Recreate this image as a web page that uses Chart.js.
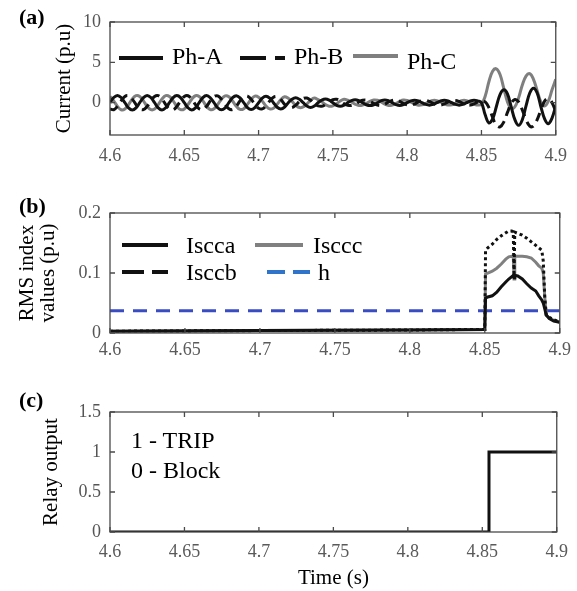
<!DOCTYPE html>
<html>
<head>
<meta charset="utf-8">
<script src="https://cdn.jsdelivr.net/npm/chart.js@4.4.0/dist/chart.umd.min.js"></script>
<style>
  body { margin: 0; background: #fff; }
  #wrap { position: relative; width: 577px; height: 591px; overflow: hidden; }
  canvas { position: absolute; left: 0; }
  .tag { position: absolute; left: 19px; font: bold 22px 'Liberation Serif', serif; color: #000; line-height: 24px; }
  .note { position: absolute; left: 131px; font: 24px 'Liberation Serif', serif; color: #000; line-height: 26px; }
</style>
</head>
<body>
<div id="wrap">
  <canvas id="ca" width="577" height="190" style="top:0"></canvas>
  <canvas id="cb" width="577" height="190" style="top:190px"></canvas>
  <canvas id="cc" width="577" height="211" style="top:380px"></canvas>
  <div class="tag" style="top:5px">(a)</div>
  <div class="tag" style="top:194px">(b)</div>
  <div class="tag" style="top:388px">(c)</div>
  <div class="note" style="top:427px">1 - TRIP</div>
  <div class="note" style="top:457px">0 - Block</div>
</div>
<script>
// (a) phase currents, sampled every 1/8 cycle
const time = [
  4.6, 4.6025, 4.605, 4.6075, 4.61, 4.6125, 4.615, 4.6175,
  4.62, 4.6225, 4.625, 4.6275, 4.63, 4.6325, 4.635, 4.6375,
  4.64, 4.6425, 4.645, 4.6475, 4.65, 4.6525, 4.655, 4.6575,
  4.66, 4.6625, 4.665, 4.6675, 4.67, 4.6725, 4.675, 4.6775,
  4.68, 4.6825, 4.685, 4.6875, 4.69, 4.6925, 4.695, 4.6975,
  4.7, 4.7025, 4.705, 4.7075, 4.71, 4.7125, 4.715, 4.7175,
  4.72, 4.7225, 4.725, 4.7275, 4.73, 4.7325, 4.735, 4.7375,
  4.74, 4.7425, 4.745, 4.7475, 4.75, 4.7525, 4.755, 4.7575,
  4.76, 4.7625, 4.765, 4.7675, 4.77, 4.7725, 4.775, 4.7775,
  4.78, 4.7825, 4.785, 4.7875, 4.79, 4.7925, 4.795, 4.7975,
  4.8, 4.8025, 4.805, 4.8075, 4.81, 4.8125, 4.815, 4.8175,
  4.82, 4.8225, 4.825, 4.8275, 4.83, 4.8325, 4.835, 4.8375,
  4.84, 4.8425, 4.845, 4.8475,
  4.85, 4.8525, 4.855, 4.8575, 4.86, 4.8625, 4.865, 4.8675,
  4.87, 4.8725, 4.875, 4.8775, 4.88, 4.8825, 4.885, 4.8875,
  4.89, 4.8925, 4.895, 4.8975, 4.9
];
const phA = [
  0, 0.64, 0.9, 0.64, 0, -0.64, -0.9, -0.64,
  0, 0.63, 0.9, 0.64, 0, -0.64, -0.9, -0.63,
  0, 0.64, 0.89, 0.64, 0, -0.63, -0.9, -0.64,
  0, 0.63, 0.88, 0.62, 0, -0.62, -0.88, -0.63,
  0, 0.62, 0.87, 0.61, 0, -0.6, -0.85, -0.6,
  0, 0.57, 0.8, 0.56, 0, -0.56, -0.78, -0.55,
  0, 0.44, 0.62, 0.42, 0, -0.42, -0.6, -0.42,
  0, 0.32, 0.45, 0.32, 0, -0.32, -0.44, -0.31,
  0, 0.26, 0.36, 0.25, 0, -0.25, -0.35, -0.25,
  0, 0.25, 0.35, 0.24, 0, -0.24, -0.34, -0.24,
  0, 0.22, 0.31, 0.22, 0, -0.21, -0.3, -0.21,
  0, 0.21, 0.3, 0.21, 0, -0.21, -0.3, -0.21,
  0, 0.21, 0.3, 0.21,
  0, -1.5, -2.5, -2.0, -0.5, 1.0, 1.6, 1.1,
  -0.5, -2.1, -2.8, -2.1, -0.4, 1.2, 1.8, 1.2,
  -0.5, -2.0, -2.6, -1.9, -0.4
];
const phB = [
  -0.78, -0.87, -0.45, 0.23, 0.78, 0.87, 0.45, -0.23,
  -0.78, -0.86, -0.45, 0.23, 0.78, 0.87, 0.45, -0.23,
  -0.77, -0.87, -0.45, 0.22, 0.77, 0.86, 0.44, -0.23,
  -0.76, -0.85, -0.44, 0.22, 0.76, 0.85, 0.44, -0.22,
  -0.75, -0.84, -0.43, 0.22, 0.74, 0.82, 0.42, -0.21,
  -0.69, -0.77, -0.4, 0.21, 0.68, 0.75, 0.39, -0.2,
  -0.54, -0.6, -0.31, 0.16, 0.52, 0.58, 0.3, -0.16,
  -0.39, -0.43, -0.23, 0.12, 0.39, 0.43, 0.22, -0.12,
  -0.31, -0.35, -0.18, 0.09, 0.3, 0.34, 0.18, -0.09,
  -0.3, -0.34, -0.18, 0.09, 0.29, 0.33, 0.17, -0.09,
  -0.27, -0.3, -0.16, 0.08, 0.26, 0.29, 0.15, -0.08,
  -0.26, -0.29, -0.15, 0.08, 0.26, 0.29, 0.15, -0.08,
  -0.26, -0.29, -0.15, 0.08,
  0.2, 0.1, -0.6, -1.8, -2.8, -3.0, -2.4, -1.2,
  -0.1, 0.4, 0.1, -0.9, -2.1, -2.9, -2.9, -2.1,
  -0.9, 0.2, 0.5, 0.0, -1.1
];
const phC = [
  0.78, 0.23, -0.45, -0.87, -0.78, -0.23, 0.45, 0.87,
  0.78, 0.23, -0.45, -0.86, -0.78, -0.23, 0.45, 0.87,
  0.77, 0.23, -0.44, -0.86, -0.77, -0.22, 0.44, 0.86,
  0.76, 0.22, -0.44, -0.85, -0.76, -0.22, 0.44, 0.85,
  0.75, 0.21, -0.43, -0.83, -0.74, -0.21, 0.42, 0.82,
  0.69, 0.2, -0.4, -0.77, -0.68, -0.2, 0.39, 0.75,
  0.54, 0.16, -0.31, -0.6, -0.52, -0.16, 0.3, 0.58,
  0.39, 0.12, -0.23, -0.43, -0.39, -0.12, 0.22, 0.43,
  0.31, 0.09, -0.18, -0.35, -0.3, -0.09, 0.18, 0.34,
  0.3, 0.09, -0.18, -0.34, -0.29, -0.09, 0.17, 0.33,
  0.27, 0.08, -0.16, -0.3, -0.26, -0.08, 0.15, 0.29,
  0.26, 0.08, -0.15, -0.29, -0.26, -0.08, 0.15, 0.29,
  0.26, 0.08, -0.15, -0.29,
  -0.2, 0.8, 2.6, 3.9, 4.2, 3.5, 1.8, 0.1,
  -0.7, -0.5, 0.6, 2.2, 3.3, 3.6, 2.9, 1.5,
  0.1, -0.4, 0.2, 1.6, 2.9
];

// (b) RMS index values and threshold
const rmsTime = [4.6, 4.7, 4.8, 4.85, 4.8505, 4.852, 4.855, 4.858, 4.861, 4.864, 4.866, 4.868,
  4.869, 4.8695, 4.87, 4.872, 4.875, 4.878, 4.881, 4.884, 4.886, 4.888, 4.889, 4.89, 4.891,
  4.893, 4.896, 4.9];
const iscca = [0.003, 0.004, 0.005, 0.006, 0.058, 0.06, 0.062, 0.068, 0.077, 0.085, 0.09, 0.094,
  0.096, 0.092, 0.096, 0.095, 0.09, 0.082, 0.075, 0.07, 0.062, 0.055, 0.05, 0.04, 0.03,
  0.024, 0.02, 0.018];
const isccb = [0.003, 0.004, 0.005, 0.006, 0.138, 0.142, 0.148, 0.156, 0.162, 0.167, 0.17, 0.17,
  0.168, 0.095, 0.168, 0.166, 0.163, 0.158, 0.152, 0.146, 0.142, 0.138, 0.12, 0.06, 0.03,
  0.026, 0.022, 0.019];
const isccc = [0.003, 0.004, 0.005, 0.006, 0.098, 0.1, 0.103, 0.108, 0.115, 0.123, 0.127, 0.128,
  0.128, 0.09, 0.128, 0.128, 0.128, 0.127, 0.125, 0.118, 0.112, 0.108, 0.1, 0.06, 0.03,
  0.025, 0.021, 0.018];
const hTime = [4.6, 4.9];
const hLevel = [0.037, 0.037];

// (c) relay output
const relayTime = [4.6, 4.8545, 4.8545, 4.9];
const relayOut = [0, 0, 1, 1];

// axes
const xTicks = [4.6, 4.65, 4.7, 4.75, 4.8, 4.85, 4.9];
const xTickLabels = ['4.6', '4.65', '4.7', '4.75', '4.8', '4.85', '4.9'];
const yTicksA = [0, 5, 10];
const yLabelsA = ['0', '5', '10'];
const yTicksB = [0, 0.1, 0.2];
const yLabelsB = ['0', '0.1', '0.2'];
const yTicksC = [0, 0.5, 1, 1.5];
const yLabelsC = ['0', '0.5', '1', '1.5'];

const SERIF = "'Liberation Serif', 'Times New Roman', serif";

function series(xs, ys) {
  return xs.map((x, i) => ({ x, y: ys[i] }));
}

// MATLAB-like box with inward ticks
const boxTicks = {
  id: 'boxTicks',
  afterDatasetsDraw(chart) {
    const { ctx, chartArea: a, scales } = chart;
    ctx.save();
    ctx.strokeStyle = '#4a4a4a';
    ctx.lineWidth = 1.3;
    ctx.beginPath();
    scales.x.ticks.forEach(t => {
      const px = scales.x.getPixelForValue(t.value);
      ctx.moveTo(px, a.bottom); ctx.lineTo(px, a.bottom - 5);
      ctx.moveTo(px, a.top); ctx.lineTo(px, a.top + 5);
    });
    scales.y.ticks.forEach(t => {
      const py = scales.y.getPixelForValue(t.value);
      ctx.moveTo(a.left, py); ctx.lineTo(a.left + 5, py);
      ctx.moveTo(a.right, py); ctx.lineTo(a.right - 5, py);
    });
    ctx.stroke();
    ctx.strokeRect(a.left, a.top, a.right - a.left, a.bottom - a.top);
    ctx.restore();
  }
};

// legend drawn inside the axes
const inLegend = {
  id: 'inLegend',
  afterDatasetsDraw(chart, args, opts) {
    const items = opts.items || [];
    const { ctx, chartArea: a } = chart;
    ctx.save();
    items.forEach(it => {
      const y = a.top + it.y;
      ctx.beginPath();
      ctx.setLineDash(it.dash || []);
      ctx.strokeStyle = it.color;
      ctx.lineWidth = 4;
      ctx.moveTo(a.left + it.x1, y);
      ctx.lineTo(a.left + it.x2, y);
      ctx.stroke();
      ctx.setLineDash([]);
      ctx.fillStyle = '#000';
      ctx.font = '24px ' + SERIF;
      ctx.textBaseline = 'middle';
      ctx.fillText(it.text, a.left + it.tx, y + (it.dy || 0));
    });
    ctx.restore();
  }
};

function panel(id, cfg) {
  const tickFont = { family: SERIF, size: 18 };
  new Chart(document.getElementById(id), {
    type: 'line',
    data: { datasets: cfg.datasets },
    options: {
      responsive: false,
      animation: false,
      devicePixelRatio: 1,
      layout: { padding: { top: cfg.top, right: 15, left: 0, bottom: 0 } },
      elements: { point: { radius: 0 } },
      plugins: {
        legend: { display: false },
        tooltip: { enabled: false },
        inLegend: { items: cfg.legend || [] }
      },
      scales: {
        x: {
          type: 'linear',
          min: 4.6,
          max: 4.9,
          grid: { display: false, drawTicks: false },
          border: { display: false },
          afterBuildTicks: s => { s.ticks = xTicks.map(v => ({ value: v })); },
          afterFit: s => { s.height = cfg.xHeight; },
          ticks: {
            autoSkip: false,
            maxRotation: 0,
            padding: cfg.xPad,
            color: '#5a5a5a',
            font: tickFont,
            callback: (v, i) => xTickLabels[i]
          },
          title: cfg.xTitle
            ? { display: true, text: cfg.xTitle, color: '#000', font: { family: SERIF, size: 21, lineHeight: 1 }, padding: { top: 0, bottom: 2 } }
            : { display: false }
        },
        y: {
          min: cfg.yMin,
          max: cfg.yMax,
          grid: { display: false, drawTicks: false },
          border: { display: false },
          afterBuildTicks: s => { s.ticks = cfg.yTicks.map(v => ({ value: v })); },
          afterFit: s => { s.width = 110; },
          ticks: {
            padding: 9,
            color: '#555',
            font: tickFont,
            callback: (v, i) => cfg.yLabels[i]
          },
          title: {
            display: true,
            text: cfg.yTitle,
            color: '#000',
            font: { family: SERIF, size: 21, lineHeight: 1 },
            padding: { top: cfg.titlePad, bottom: 0 }
          }
        }
      }
    },
    plugins: [boxTicks, inLegend]
  });
}

panel('ca', {
  top: 22, xHeight: 55, xPad: 10,
  yMin: -4, yMax: 10, yTicks: yTicksA, yLabels: yLabelsA,
  yTitle: 'Current (p.u)', titlePad: 54,
  datasets: [
    { label: 'Ph-A', data: series(time, phA), borderColor: '#111', borderWidth: 3, tension: 0.4 },
    { label: 'Ph-B', data: series(time, phB), borderColor: '#111', borderWidth: 3, borderDash: [9, 6], tension: 0.4 },
    { label: 'Ph-C', data: series(time, phC), borderColor: '#7f7f7f', borderWidth: 3, tension: 0.4 }
  ],
  legend: [
    { text: 'Ph-A', color: '#111', x1: 9, x2: 53, tx: 62, y: 36 },
    { text: 'Ph-B', color: '#111', dash: [26, 9], x1: 130, x2: 175, tx: 184, y: 36 },
    { text: 'Ph-C', color: '#7f7f7f', x1: 243, x2: 288, tx: 297, y: 34, dy: 7 }
  ]
});

panel('cb', {
  top: 23, xHeight: 47, xPad: 6,
  yMin: 0, yMax: 0.2, yTicks: yTicksB, yLabels: yLabelsB,
  yTitle: ['RMS index', 'values (p.u)'], titlePad: 17,
  datasets: [
    { label: 'Iscca', data: series(rmsTime, iscca), borderColor: '#111', borderWidth: 3 },
    { label: 'Isccb', data: series(rmsTime, isccb), borderColor: '#111', borderWidth: 3, borderDash: [3, 3] },
    { label: 'Isccc', data: series(rmsTime, isccc), borderColor: '#808080', borderWidth: 3 },
    { label: 'h', data: series(hTime, hLevel), borderColor: '#3a4cc2', borderWidth: 3, borderDash: [14, 9] }
  ],
  legend: [
    { text: 'Iscca', color: '#111', x1: 12, x2: 58, tx: 76, y: 32, dy: 2 },
    { text: 'Isccc', color: '#808080', x1: 145, x2: 193, tx: 203, y: 32, dy: 2 },
    { text: 'Isccb', color: '#111', dash: [22, 8], x1: 12, x2: 58, tx: 76, y: 59, dy: 2 },
    { text: 'h', color: '#2f74c8', dash: [18, 8], x1: 157, x2: 200, tx: 208, y: 59, dy: 2 }
  ]
});

panel('cc', {
  top: 32, xHeight: 59, xPad: 9,
  yMin: 0, yMax: 1.5, yTicks: yTicksC, yLabels: yLabelsC,
  yTitle: 'Relay output', titlePad: 41,
  xTitle: 'Time (s)',
  datasets: [
    { label: 'Relay', data: series(relayTime, relayOut), borderColor: '#111', borderWidth: 3 }
  ]
});
</script>
</body>
</html>
